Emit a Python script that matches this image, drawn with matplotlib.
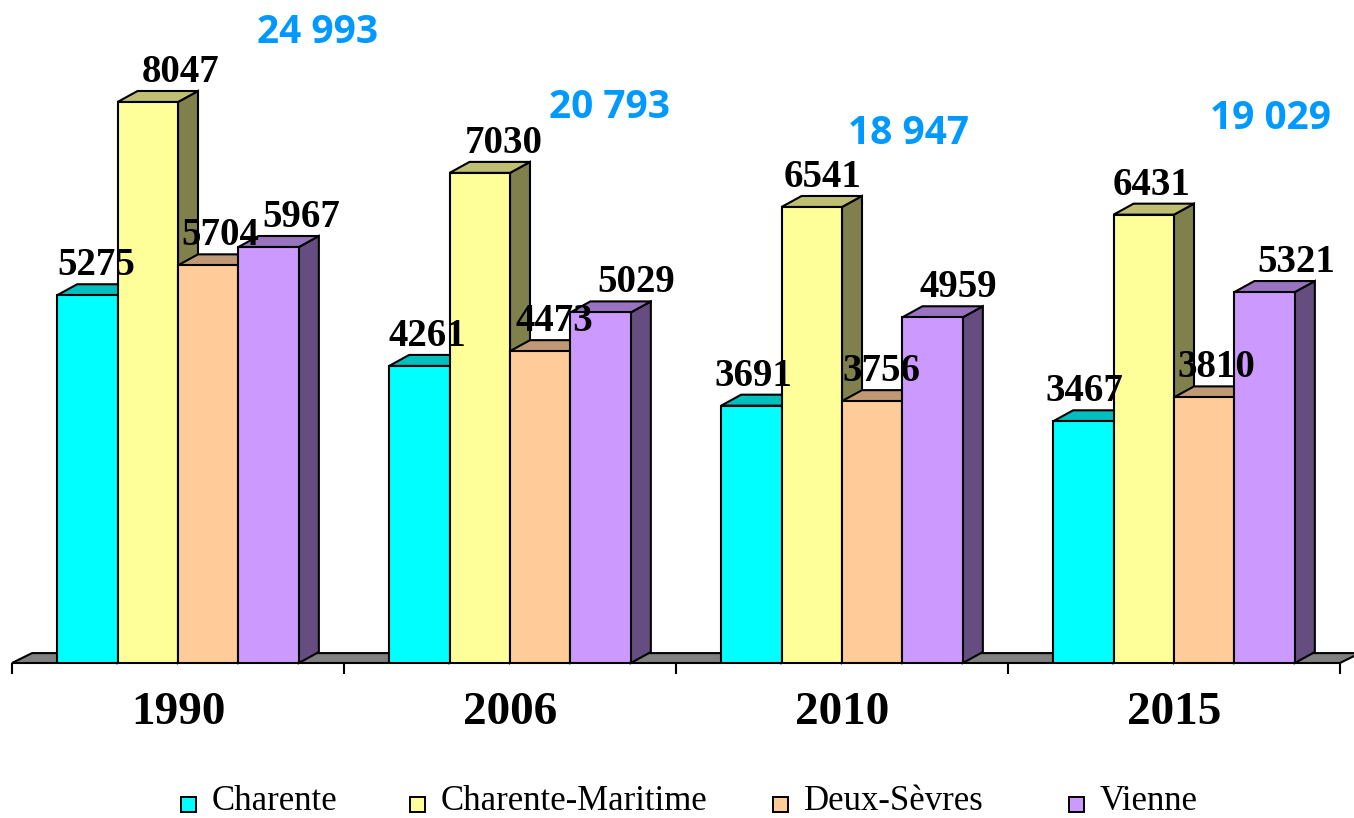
import numpy as np
import matplotlib.pyplot as plt
from matplotlib.patches import Polygon, Rectangle
from matplotlib.colors import to_rgb

years = ['1990', '2006', '2010', '2015']
regions = ['Charente', 'Charente-Maritime', 'Deux-Sèvres', 'Vienne']
charente = [5275, 4261, 3691, 3467]
charente_maritime = [8047, 7030, 6541, 6431]
deux_sevres = [5704, 4473, 3756, 3810]
vienne = [5967, 5029, 4959, 5321]
series = [charente, charente_maritime, deux_sevres, vienne]
colors = ['#00FFFF', '#FFFF99', '#FFCC99', '#CC99FF']

# hand placement of the labels (pixels / data units), as in the original chart
label_nudge_px = [[-1, 23, 2, 23], [-2, 14, 4, 26], [-8, 1, -1, 16], [-9, -2, 2, 22]]
total_dx = [0.42, 0.30, 0.20, 0.29]
total_y = [9050, 7975, 7600, 7815]
legend_x_px = [181, 410, 773, 1069]

W, H = 1354, 818
fig = plt.figure(figsize=(W / 100, H / 100), dpi=100)
ax = fig.add_axes([12 / W, 155 / H, 1328 / W, 663 / H])
ax.set_xlim(-0.5, 3.5)
ax.set_ylim(0, 9510)
for s in ax.spines.values():
    s.set_visible(False)
ax.set_yticks([])

# depth of the fake 3D effect, converted from pixels to data units
ux = 4 / 1328
uy = 9510 / 663
ddx, ddy = 20 * ux, 11 * uy
lw = 1.5

# floor
floor = Polygon([(-0.5, 0), (3.5, 0), (3.5 + ddx, 0.9 * ddy), (-0.5 + ddx, 0.9 * ddy)],
                closed=True, facecolor='#808080', edgecolor='black', lw=lw,
                clip_on=False, zorder=1)
ax.add_patch(floor)

w = 0.182
x = np.arange(len(years))
for i, (vals, c) in enumerate(zip(series, colors)):
    rgb = np.array(to_rgb(c))
    left = x - 2 * w + i * w
    z = 2 + 3 * i
    for x0, h in zip(left, vals):
        x1 = x0 + w
        side = Polygon([(x1, 0), (x1 + ddx, ddy), (x1 + ddx, h + ddy), (x1, h)],
                       closed=True, facecolor=rgb * 0.5, edgecolor='black', lw=lw,
                       clip_on=False, zorder=z)
        top = Polygon([(x0, h), (x1, h), (x1 + ddx, h + ddy), (x0 + ddx, h + ddy)],
                      closed=True, facecolor=rgb * 0.75, edgecolor='black', lw=lw,
                      clip_on=False, zorder=z + 1)
        ax.add_patch(side)
        ax.add_patch(top)
    ax.bar(left, vals, width=w, align='edge', color=c, edgecolor='black',
           linewidth=lw, zorder=z + 2)

# value labels
for i, vals in enumerate(series):
    for j, v in enumerate(vals):
        cx = x[j] - 2 * w + i * w + w / 2 + ddx / 2 + label_nudge_px[j][i] * ux
        ax.text(cx, v + ddy + 9 * uy, str(v), ha='center', va='baseline',
                fontsize=28, fontweight='bold', family='Liberation Serif', zorder=50)

# totals
totals = [sum(v) for v in zip(*series)]
for j, t in enumerate(totals):
    ax.text(x[j] + total_dx[j], total_y[j], f'{t:,}'.replace(',', ' '),
            ha='center', va='center', fontsize=28, fontweight='bold',
            family='Open Sans', color='#0099FF', zorder=50)

ax.set_xticks(x)
ax.set_xticklabels(years, fontsize=34, fontweight='bold', family='Liberation Serif')
ax.set_xticks(np.arange(-0.5, 3.6, 1), minor=True)
ax.tick_params(axis='x', which='major', length=0, pad=21)
ax.tick_params(axis='x', which='minor', length=8, width=1.5, direction='out')

# legend
for name, c, lx in zip(regions, colors, legend_x_px):
    fig.add_artist(Rectangle((lx / W, (818 - 812) / H), 15 / W, 15 / H,
                             facecolor=c, edgecolor='black', lw=1.4,
                             transform=fig.transFigure))
    fig.text((lx + 31) / W, (818 - 802) / H, name, ha='left', va='center',
             fontsize=25, family='Liberation Serif')

fig.savefig('out.png', dpi=100)
